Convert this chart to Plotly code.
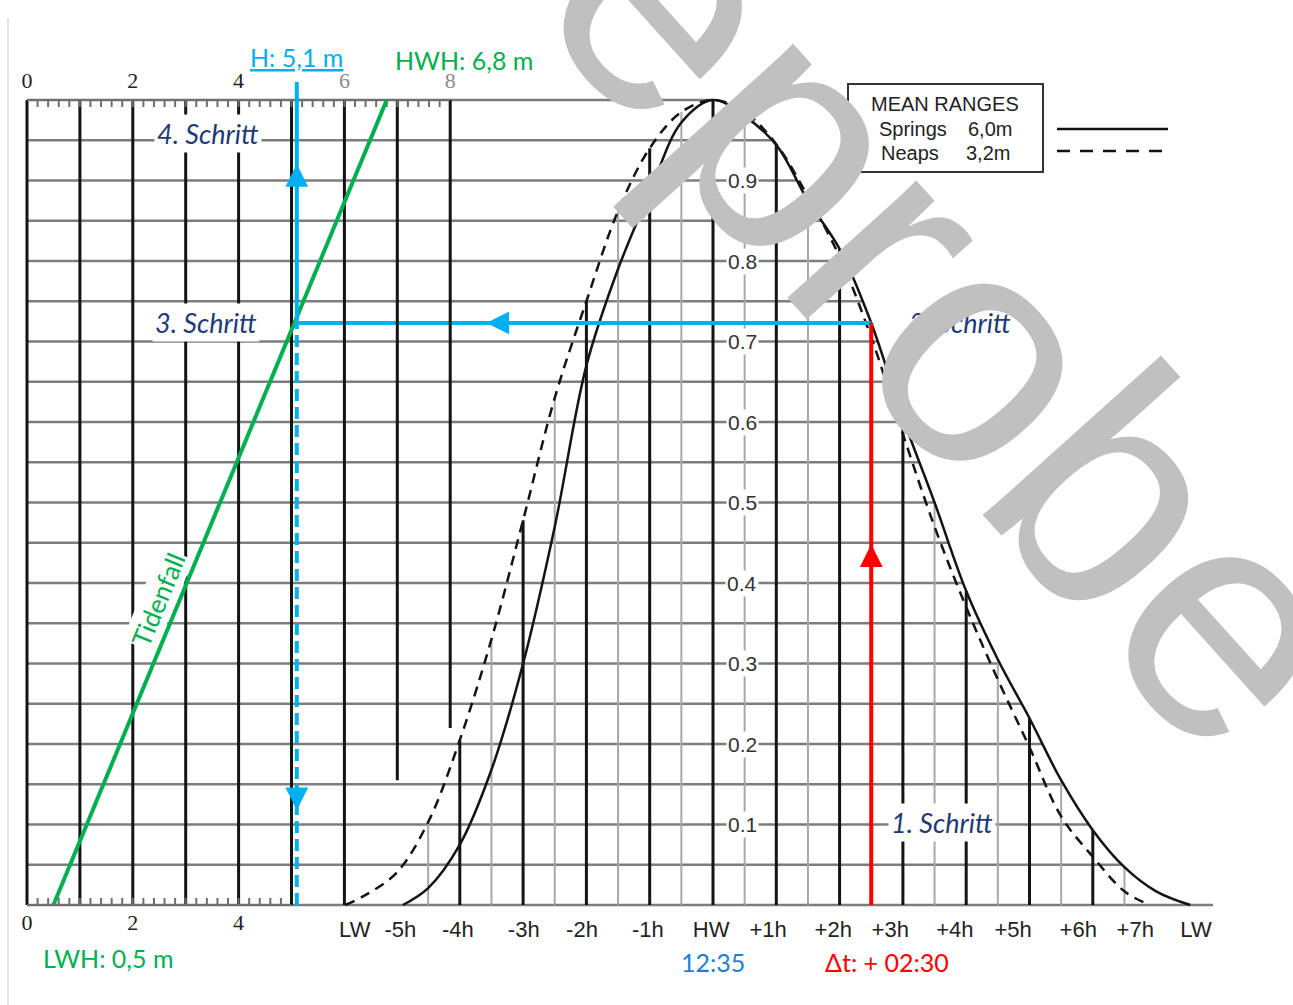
import numpy as np
import plotly.graph_objects as go

# ---------------- data ----------------
# Spring tidal curve (factor vs. hours relative to HW)
SPRING_T = [-4.9, -4.5, -4.0, -3.5, -3.0, -2.5, -2.0, -1.5, -1.0, -0.5, 0.0, 0.5, 1.0, 1.5,
            2.0, 2.5, 3.0, 3.5, 4.0, 4.5, 5.0, 5.5, 6.0, 6.5, 7.0, 7.54]
SPRING_F = [0.0, 0.021, 0.075, 0.168, 0.30, 0.47, 0.67, 0.79, 0.885, 0.972, 1.0, 0.98, 0.944, 0.875,
            0.815, 0.723, 0.605, 0.50, 0.39, 0.305, 0.232, 0.155, 0.093, 0.047, 0.017, 0.0]
# Neap tidal curve
NEAP_T = [-5.81, -5.5, -5.0, -4.5, -4.0, -3.5, -3.0, -2.5, -2.0, -1.5, -1.0, -0.5, 0.0, 0.5,
          1.0, 1.5, 2.0, 2.5, 3.0, 3.5, 4.0, 4.5, 5.0, 5.5, 6.0, 6.5, 6.9]
NEAP_F = [0.0, 0.012, 0.04, 0.103, 0.205, 0.33, 0.478, 0.63, 0.75, 0.862, 0.94, 0.985, 1.0, 0.985,
          0.945, 0.88, 0.805, 0.705, 0.585, 0.47, 0.37, 0.28, 0.196, 0.11, 0.06, 0.017, 0.0]

LWH = 0.5          # low water height [m]
HWH = 6.8          # high water height [m]
H_RESULT = 5.1     # resulting height [m]
DT_HOURS = 2.5     # time after HW [h]

FACTOR_TICKS = [0.1, 0.2, 0.3, 0.4, 0.5, 0.6, 0.7, 0.8, 0.9]
TIME_LABELS = ["LW", "-5h", "-4h", "-3h", "-2h", "-1h", "HW", "+1h", "+2h", "+3h",
               "+4h", "+5h", "+6h", "+7h", "LW"]
TIME_LABEL_POS = [-5.66, -4.94, -4.03, -2.99, -2.07, -1.03, -0.03, 0.87, 1.90, 2.80,
                  3.82, 4.74, 5.77, 6.67, 7.63]
HEIGHT_TOP_TICKS = [0, 2, 4, 6, 8]
HEIGHT_BOTTOM_TICKS = [0, 2, 4]
HEIGHT_LINES = [0, 1, 2, 3, 4, 5, 6, 7, 8]
HEIGHT_LINE_BASE = [0, 0, 0, 0, 0, 0, 0, 0.155, 0.22]
HOUR_LINES = [-4, -3, -2, -1, 0, 1, 2, 3, 4, 5, 6]
HALF_HOUR_LINES = [-4.5, -3.5, -2.5, -1.5, -0.5, 0.5, 1.5, 2.5, 3.5, 4.5, 5.5, 6.5]
BASELINE_END = 7.9
TOP_RULER_END = 8.0
BOTTOM_RULER_END = 5.0

# ---------------- layout geometry ----------------
W, H = 1293, 1005
PX_HW, PX_PER_H = 713, 63.3        # time axis placement
PX_M0, PX_PER_M = 27, 52.9         # height scale placement
PX_F0, PX_PER_F = 905, 805         # factor axis placement

XH = [-PX_HW / PX_PER_H, (W - PX_HW) / PX_PER_H]
XM = [-PX_M0 / PX_PER_M, (W - PX_M0) / PX_PER_M]
YF = [-(H - PX_F0) / PX_PER_F, PX_F0 / PX_PER_F]
BASE_POS = (H - PX_F0) / H
TOP_POS = 1 - 97 / H


def m_to_h(m):
    """Convert a height-scale position [m] to the time axis [h]."""
    return XH[0] + (np.asarray(m) - XM[0]) * (XH[1] - XH[0]) / (XM[1] - XM[0])


def envelope(t):
    return max(np.interp(t, SPRING_T, SPRING_F, left=0, right=0),
               np.interp(t, NEAP_T, NEAP_F, left=0, right=0))


i_hw = SPRING_T.index(0.0)
right_t = np.array(SPRING_T[i_hw:])
right_f = np.array(SPRING_F[i_hw:])


def right_branch(f):
    return float(np.interp(f, right_f[::-1], right_t[::-1]))


F_RESULT = float(np.interp(DT_HOURS, SPRING_T, SPRING_F))

BLACK = "#141414"
GRID = "#7d7d7d"
LIGHT = "#a8a8a8"
BLUE = "#00b0f0"
RED = "#ff0000"
GREEN = "#00b050"
NAVY = "#1f3a78"

fig = go.Figure()


def seg_trace(xs, ys, xaxis, color, width, dash="solid"):
    fig.add_trace(go.Scatter(x=xs, y=ys, xaxis=xaxis, yaxis="y", mode="lines",
                             line=dict(color=color, width=width, dash=dash),
                             hoverinfo="skip", showlegend=False))


# horizontal grid lines
hx, hy = [], []
for f in np.round(np.arange(0, 1.0001, 0.05), 2):
    x1 = BASELINE_END if f == 0 else right_branch(f)
    hx += [float(m_to_h(0)), x1, None]
    hy += [f, f, None]
seg_trace(hx, hy, "x", GRID, 2.5)

# half-hour lines
vx, vy = [], []
for t in HALF_HOUR_LINES:
    vx += [t, t, None]
    vy += [0, envelope(t), None]
seg_trace(vx, vy, "x", LIGHT, 2)

# hour lines
vx, vy = [], []
for t in HOUR_LINES:
    vx += [t, t, None]
    vy += [0, envelope(t), None]
seg_trace(vx, vy, "x", BLACK, 3)

# height scale lines
mx, my = [], []
for m, b in zip(HEIGHT_LINES, HEIGHT_LINE_BASE):
    mx += [m, m, None]
    my += [b, 1.0, None]
seg_trace(mx, my, "x2", BLACK, 3)

# rulers
TICK_F = 7 / PX_PER_F
rx, ry = [0, TOP_RULER_END, None], [1.0, 1.0, None]
for m in np.arange(0.2, TOP_RULER_END, 0.2):
    rx += [m, m, None]
    ry += [1.0, 1.0 - TICK_F, None]
seg_trace(rx, ry, "x2", "#6e6e6e", 2)
bx, by = [0, BOTTOM_RULER_END, None], [0, 0, None]
for m in np.arange(0.2, BOTTOM_RULER_END, 0.2):
    bx += [m, m, None]
    by += [0, TICK_F, None]
seg_trace(bx, by, "x3", "#6e6e6e", 2)

# tidal curves
fig.add_trace(go.Scatter(x=NEAP_T, y=NEAP_F, mode="lines", hoverinfo="skip", showlegend=False,
                         line=dict(color=BLACK, width=2.5, dash="10px,7px", shape="spline",
                                   smoothing=1.0)))
fig.add_trace(go.Scatter(x=SPRING_T, y=SPRING_F, mode="lines", hoverinfo="skip", showlegend=False,
                         line=dict(color=BLACK, width=2.5, shape="spline", smoothing=1.0)))

# range line (Tidenfall)
seg_trace([LWH, HWH], [0, 1], "x2", GREEN, 4)

# construction lines
F_TOP = 1 + 18 / PX_PER_F
seg_trace([H_RESULT, H_RESULT], [F_RESULT, F_TOP], "x2", BLUE, 4)
seg_trace([H_RESULT, H_RESULT], [0, F_RESULT], "x2", BLUE, 4, dash="12px,6px")
seg_trace([float(m_to_h(H_RESULT)), DT_HOURS], [F_RESULT, F_RESULT], "x", BLUE, 4)
seg_trace([DT_HOURS, DT_HOURS], [0, F_RESULT], "x", RED, 4)

ann = []


def arrow(x, y, xref, ax, ay, color):
    ann.append(dict(x=x, y=y, xref=xref, yref="y", ax=ax, ay=ay, text="", showarrow=True,
                    arrowhead=2, arrowsize=1.3, arrowwidth=3.5, arrowcolor=color))


arrow(H_RESULT, F_RESULT + 0.66 * (F_TOP - F_RESULT), "x2", 0, 26, BLUE)
arrow(H_RESULT, 0.163 * F_RESULT, "x2", 0, -26, BLUE)
arrow(float(m_to_h(H_RESULT)) + 0.33 * (DT_HOURS - float(m_to_h(H_RESULT))), F_RESULT, "x", 26, 0, BLUE)
arrow(DT_HOURS, 0.62 * F_RESULT, "x", 0, 26, RED)

# factor labels
for f in FACTOR_TICKS:
    ann.append(dict(x=0.46, y=f, xref="x", yref="y", text=f"{f:.1f}", showarrow=False,
                    bgcolor="white", borderpad=1,
                    font=dict(family="Liberation Sans, Arial", size=21, color="#333333")))

# step labels
step_font = dict(family="Lato", size=27, color=NAVY, style="italic")
ann.append(dict(x=3.42, y=0.959, xref="x2", yref="y", text="4. Schritt", showarrow=False,
                bgcolor="white", borderpad=2, font=step_font))
ann.append(dict(x=3.38, y=F_RESULT, xref="x2", yref="y", text="3. Schritt", showarrow=False,
                bgcolor="white", borderpad=2, font=step_font))
ann.append(dict(x=3.9, y=F_RESULT, xref="x", yref="y", text="2. Schritt", showarrow=False,
                bgcolor="white", borderpad=2, font=step_font))
ann.append(dict(x=3.62, y=0.103, xref="x", yref="y", text="1. Schritt", showarrow=False,
                bgcolor="white", borderpad=2, font=step_font))

# Tidenfall label along the range line
ang = -np.degrees(np.arctan2(PX_PER_F, (HWH - LWH) * PX_PER_M))
f_lab = 0.379
ann.append(dict(x=LWH + f_lab * (HWH - LWH), y=f_lab, xref="x2", yref="y", xshift=-22,
                text="Tidenfall", textangle=ang, showarrow=False, bgcolor="white", borderpad=1,
                font=dict(family="Lato", size=26, color=GREEN)))

LAB = 25
ann.append(dict(x=H_RESULT, y=1.053, xref="x2", yref="y", text="H: 5,1 m", showarrow=False,
                font=dict(family="Lato", size=LAB, color=BLUE, lineposition="under")))
ann.append(dict(x=HWH, y=1.050, xref="x2", yref="y", text="HWH: 6,8 m", showarrow=False,
                xanchor="left", xshift=6, font=dict(family="Lato", size=LAB, color=GREEN)))
ann.append(dict(x=LWH, y=-0.066, xref="x2", yref="y", text="LWH: 0,5 m", showarrow=False,
                xanchor="left", xshift=-12, font=dict(family="Lato", size=LAB, color=GREEN)))
ann.append(dict(x=0, y=-0.071, xref="x", yref="y", text="12:35", showarrow=False,
                font=dict(family="Lato", size=LAB, color="#1e7fd2")))
ann.append(dict(x=DT_HOURS, y=-0.071, xref="x", yref="y", text="Δt: + 02:30", showarrow=False,
                xshift=16, font=dict(family="Lato", size=LAB, color=RED)))

# legend box
leg_font = dict(family="Liberation Sans, Arial", size=20, color="#222222")
for txt, px, py in [("MEAN RANGES", 945, 104), ("Springs", 913, 129), ("6,0m", 990, 129),
                    ("Neaps", 910, 153), ("3,2m", 988, 153)]:
    ann.append(dict(x=px / W, y=1 - py / H, xref="paper", yref="paper", text=txt,
                    xanchor="center", yanchor="middle", showarrow=False, font=leg_font))

shapes = [
    dict(type="line", xref="paper", yref="paper", x0=8 / W, x1=8 / W, y0=0, y1=1 - 18 / H,
         line=dict(color="#e4e4e4", width=2)),
    dict(type="rect", xref="paper", yref="paper", x0=848 / W, x1=1043 / W, y0=1 - 172 / H,
         y1=1 - 84 / H, line=dict(color="#333333", width=2)),
    dict(type="line", xref="paper", yref="paper", x0=1057 / W, x1=1168 / W, y0=1 - 129 / H,
         y1=1 - 129 / H, line=dict(color="#111111", width=2.5)),
    dict(type="line", xref="paper", yref="paper", x0=1057 / W, x1=1168 / W, y0=1 - 151 / H,
         y1=1 - 151 / H, line=dict(color="#111111", width=2.5, dash="13px,10px")),
]

# watermark
ann.append(dict(x=777 / W, y=1 - 116 / H, xref="paper", yref="paper", text="Leseprobe",
                xanchor="center", yanchor="middle", textangle=48, showarrow=False,
                font=dict(family="Liberation Sans, Arial", size=330, color="#c0c0c0")))

top_text = [str(v) if v < 6 else f'<span style="color:#8a8a8a">{v}</span>' for v in HEIGHT_TOP_TICKS]

fig.update_layout(
    width=W, height=H, margin=dict(l=0, r=0, t=0, b=0),
    paper_bgcolor="white", plot_bgcolor="white", showlegend=False,
    xaxis=dict(range=XH, anchor="free", position=BASE_POS, showgrid=False, zeroline=False,
               showline=False, ticks="", tickmode="array", tickvals=TIME_LABEL_POS,
               ticktext=TIME_LABELS, ticklabelstandoff=9,
               tickfont=dict(family="Liberation Sans, Arial", size=22, color="#222222")),
    xaxis2=dict(range=XM, overlaying="x", anchor="free", position=TOP_POS, side="top",
                showgrid=False, zeroline=False, showline=False, ticks="", tickmode="array",
                tickvals=HEIGHT_TOP_TICKS, ticktext=top_text, ticklabelstandoff=5,
                tickfont=dict(family="Liberation Serif, Times New Roman", size=22, color="#222222")),
    xaxis3=dict(range=XM, overlaying="x", anchor="free", position=BASE_POS, side="bottom",
                showgrid=False, zeroline=False, showline=False, ticks="", tickmode="array",
                tickvals=HEIGHT_BOTTOM_TICKS, ticktext=[str(v) for v in HEIGHT_BOTTOM_TICKS],
                ticklabelstandoff=2,
                tickfont=dict(family="Liberation Serif, Times New Roman", size=22, color="#222222")),
    yaxis=dict(range=YF, visible=False),
    annotations=ann, shapes=shapes,
)

fig.write_html("out.html")
